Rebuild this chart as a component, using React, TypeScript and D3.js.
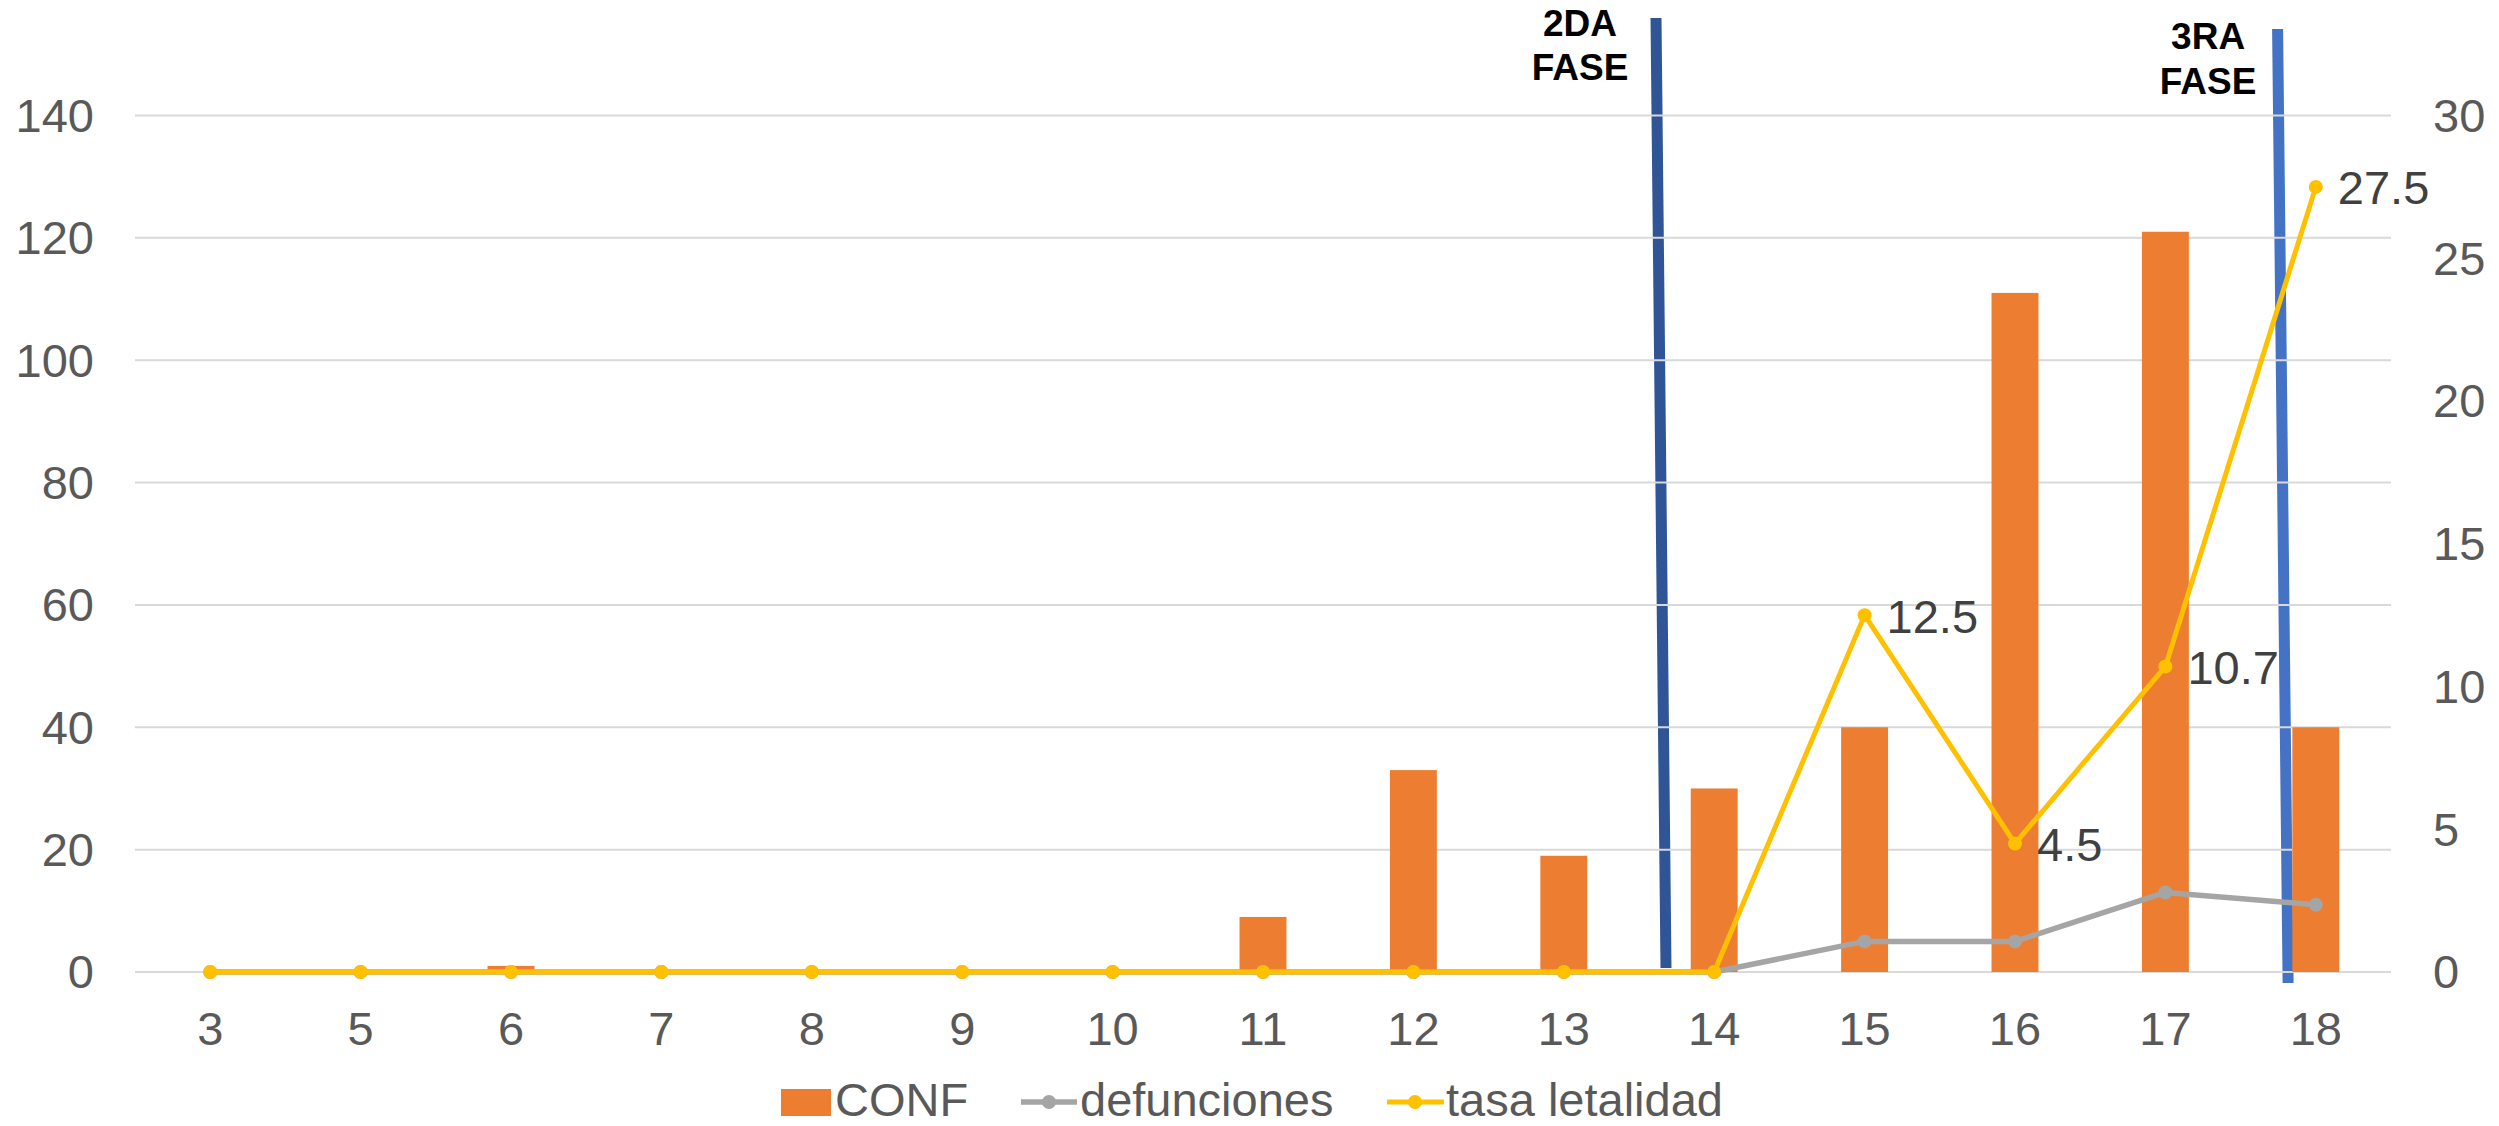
import React from "react";
import * as d3 from "d3";

const categories = ["3", "5", "6", "7", "8", "9", "10", "11", "12", "13", "14", "15", "16", "17", "18"];
const conf = [0, 0, 1, 0, 0, 0, 0, 9, 33, 19, 30, 40, 111, 121, 40];
const defunciones = [0, 0, 0, 0, 0, 0, 0, 0, 0, 0, 0, 5, 5, 13, 11];
const tasaLetalidad = [0, 0, 0, 0, 0, 0, 0, 0, 0, 0, 0, 12.5, 4.5, 10.7, 27.5];
const leftTicks = [0, 20, 40, 60, 80, 100, 120, 140];
const rightTicks = [0, 5, 10, 15, 20, 25, 30];
const phases = [
  { lines: ["2DA", "FASE"], cat: "14" },
  { lines: ["3RA", "FASE"], cat: "18" },
];

const W = 2499;
const H = 1126;
const FONT = "'Liberation Sans', Arial, Helvetica, sans-serif";
const ORANGE = "#ED7D31";
const GREY = "#A5A5A5";
const YELLOW = "#FFC000";

export default function App() {
  React.useEffect(() => {
    document.body.style.margin = "0";
  }, []);

  const x = d3.scaleBand<string>().domain(categories).range([135, 2391]).padding(0);
  const bw = x.bandwidth();
  const cx = (c: string) => (x(c) as number) + bw / 2;
  const yL = d3.scaleLinear().domain([0, 140]).range([972, 115.5]);
  const yR = d3.scaleLinear().domain([0, 30]).range([972, 115.5]);
  const barW = bw * 0.312;

  const lineL = d3
    .line<number>()
    .x((_, i) => cx(categories[i]))
    .y((d) => yL(d));
  const lineR = d3
    .line<number>()
    .x((_, i) => cx(categories[i]))
    .y((d) => yR(d));

  const phaseGeom = [
    { topDx: 17, botDx: 27, top: 18, bot: 968, color: "#2F5597", labelDx: -59, base1: 36, base2: 80 },
    { topDx: 37, botDx: 47.5, top: 29, bot: 983, color: "#4472C4", labelDx: -32.5, base1: 49, base2: 94 },
  ];

  const LEG_BASE = 1116;
  const LEG_MID = 1102;

  return (
    <svg width={W} height={H} style={{ position: "absolute", left: 0, top: 0, background: "#fff" }} fontFamily={FONT}>
      <rect x={0} y={0} width={W} height={H} fill="#fff" />
      {phases.map((p, i) => {
        const g = phaseGeom[i];
        const x0 = x(p.cat) as number;
        return (
          <line
            key={"pl" + i}
            x1={x0 + g.topDx}
            y1={g.top}
            x2={x0 + g.botDx}
            y2={g.bot}
            stroke={g.color}
            strokeWidth={11}
          />
        );
      })}
      {leftTicks.map((t) => (
        <line key={"g" + t} x1={135} x2={2391} y1={yL(t)} y2={yL(t)} stroke="#D9D9D9" strokeWidth={2} />
      ))}
      {conf.map((v, i) => (
        <rect
          key={"b" + i}
          x={cx(categories[i]) - barW / 2}
          y={yL(v)}
          width={barW}
          height={yL(0) - yL(v)}
          fill={ORANGE}
        />
      ))}
      <path d={lineL(defunciones) || ""} fill="none" stroke={GREY} strokeWidth={5.5} strokeLinejoin="round" />
      {defunciones.map((v, i) => (
        <circle key={"dm" + i} cx={cx(categories[i])} cy={yL(v)} r={7} fill={GREY} />
      ))}
      <path d={lineR(tasaLetalidad) || ""} fill="none" stroke={YELLOW} strokeWidth={5} strokeLinejoin="round" />
      {tasaLetalidad.map((v, i) => (
        <circle key={"tm" + i} cx={cx(categories[i])} cy={yR(v)} r={7} fill={YELLOW} />
      ))}
      {tasaLetalidad.map((v, i) =>
        v > 0 ? (
          <text
            key={"dl" + i}
            x={cx(categories[i]) + 22}
            y={yR(v) + 1}
            dy="0.35em"
            fontSize={47}
            fill="#404040"
          >
            {d3.format(".1f")(v)}
          </text>
        ) : null
      )}
      {leftTicks.map((t) => (
        <text key={"lt" + t} x={94} y={yL(t)} dy="0.35em" textAnchor="end" fontSize={47} fill="#595959">
          {t}
        </text>
      ))}
      {rightTicks.map((t) => (
        <text key={"rt" + t} x={2433} y={yR(t)} dy="0.35em" fontSize={47} fill="#595959">
          {t}
        </text>
      ))}
      {categories.map((c) => (
        <text key={"xl" + c} x={cx(c)} y={1045} textAnchor="middle" fontSize={47} fill="#595959">
          {c}
        </text>
      ))}
      {phases.map((p, i) => {
        const g = phaseGeom[i];
        const lx = (x(p.cat) as number) + g.labelDx;
        return (
          <g key={"pt" + i}>
            <text x={lx} y={g.base1} textAnchor="middle" fontSize={37} fontWeight="bold" fill="#000">
              {p.lines[0]}
            </text>
            <text x={lx} y={g.base2} textAnchor="middle" fontSize={37} fontWeight="bold" fill="#000">
              {p.lines[1]}
            </text>
          </g>
        );
      })}
      <g>
        <rect x={781} y={LEG_MID - 13} width={50} height={27} fill={ORANGE} />
        <text x={835} y={LEG_BASE} fontSize={47} fill="#595959">CONF</text>
        <line x1={1021} x2={1077} y1={LEG_MID} y2={LEG_MID} stroke={GREY} strokeWidth={5.5} />
        <circle cx={1049} cy={LEG_MID} r={7} fill={GREY} />
        <text x={1080} y={LEG_BASE} fontSize={47} fill="#595959">defunciones</text>
        <line x1={1387} x2={1444} y1={LEG_MID} y2={LEG_MID} stroke={YELLOW} strokeWidth={5} />
        <circle cx={1415} cy={LEG_MID} r={7} fill={YELLOW} />
        <text x={1446} y={LEG_BASE} fontSize={47} fill="#595959">tasa letalidad</text>
      </g>
    </svg>
  );
}
